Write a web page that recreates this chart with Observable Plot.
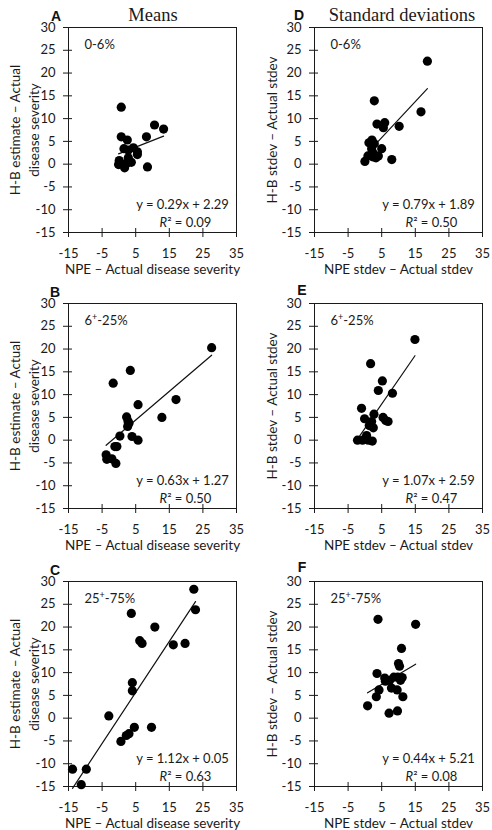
<!DOCTYPE html>
<html>
<head>
<meta charset="utf-8">
<script src="https://cdn.jsdelivr.net/npm/d3@7"></script>
<script src="https://cdn.jsdelivr.net/npm/@observablehq/plot@0.6"></script>
<style>
  html, body { margin: 0; padding: 0; background: #fff; }
  #fig { position: relative; width: 492px; height: 830px; overflow: hidden; background: #fff; }
  .panel { position: absolute; }
  .col-title { position: absolute; font-family: "Liberation Serif", "Times New Roman", serif; font-size: 18.5px; color: #1a1a1a; transform: translate(-50%, -50%); white-space: nowrap; }
  .letter { position: absolute; font-family: "Liberation Sans", Arial, sans-serif; font-weight: bold; font-size: 14px; color: #111; transform: translate(-50%, -50%); }
</style>
</head>
<body>
<div id="fig"></div>
<script>
// Axis ticks shared by every panel
const xTicks = [-15, -5, 5, 15, 25, 35];
const yTicks = [-15, -10, -5, 0, 5, 10, 15, 20, 25, 30];

// Severity classes (one row of panels each)
const ranges = ["0-6%", "6⁺-25%", "25⁺-75%"];

// Means: NPE − actual (x) vs H-B estimate − actual (y)
const meansLowX = [0.7, 0.7, 2.5, 8.2, 10.6, 13.3, 1.5, 2.8, 4.3, 5.5, 5.5, 0.1, -0.1, 1.7, 2.8, 3.7, 8.5, 2.3];
const meansLowY = [12.5, 6.0, 5.3, 6.0, 8.6, 7.7, 3.4, 3.1, 3.6, 2.7, 2.1, 0.8, -0.1, -0.8, 1.4, 0.4, -0.6, 0.2];
const meansMidX = [27.6, 17.0, 12.8, -1.7, 3.4, 5.7, 2.3, 2.7, 3.0, 2.6, 0.3, 3.9, 5.7, -1.2, -0.6, -3.8, -3.6, -2.1, -0.9];
const meansMidY = [20.3, 8.9, 5.0, 12.5, 15.3, 7.8, 5.1, 4.2, 3.7, 3.0, 0.9, 0.8, 0.0, -1.4, -1.4, -3.2, -4.2, -4.1, -5.1];
const meansHighX = [22.3, 22.8, 3.7, 10.7, 6.2, 6.9, 16.2, 19.7, 4.0, 4.0, -3.0, 4.6, 9.7, 3.0, 2.2, 0.6, -13.8, -9.7, -11.2];
const meansHighY = [28.3, 23.8, 23.0, 20.0, 17.0, 16.4, 16.1, 16.4, 7.8, 6.0, 0.5, -2.0, -2.0, -3.4, -3.8, -5.1, -11.2, -11.2, -14.6];

// Standard deviations: NPE stdev − actual (x) vs H-B stdev − actual (y)
const sdLowX = [18.6, 16.7, 2.8, 3.6, 5.9, 5.5, 10.2, 2.1, 1.2, 2.8, 5.0, 2.0, 0.0, 0.9, 2.5, 3.3, 4.0, 8.0, 2.3];
const sdLowY = [22.6, 11.5, 13.9, 8.8, 9.1, 8.0, 8.3, 5.3, 4.7, 4.5, 3.4, 3.4, 0.6, 1.8, 1.6, 1.4, 1.8, 1.0, 2.6];
const sdMidX = [14.9, 1.7, 5.2, 4.0, 8.2, -1.0, -0.1, 2.7, 2.0, 2.5, 5.4, 6.2, 6.9, -2.2, -0.7, 0.5, 1.0, 2.2, 1.3];
const sdMidY = [22.1, 16.8, 13.0, 10.9, 10.3, 7.0, 4.7, 5.7, 4.1, 2.7, 5.0, 4.3, 4.1, 0.0, 0.0, 1.0, 0.0, -0.2, 3.2];
const sdHighX = [3.9, 15.1, 10.9, 10.0, 10.3, 3.6, 5.9, 6.1, 7.4, 8.6, 9.8, 11.1, 10.6, 7.9, 9.6, 4.2, 3.4, 11.3, 0.8, 7.2, 9.7];
const sdHighY = [21.7, 20.6, 15.3, 12.0, 11.4, 9.8, 8.8, 8.1, 8.3, 9.0, 9.0, 8.9, 8.3, 6.6, 6.2, 6.2, 4.7, 4.7, 2.7, 1.1, 1.6];

// Fitted regressions (slope, intercept, R²), rows = severity class
const meansSlope = [0.29, 0.63, 1.12];
const meansIntercept = [2.29, 1.27, 0.05];
const meansR2 = ["0.09", "0.50", "0.63"];
const sdSlope = [0.79, 1.07, 0.44];
const sdIntercept = [1.89, 2.59, 5.21];
const sdR2 = ["0.50", "0.47", "0.08"];

const panelLetters = [["A", "B", "C"], ["D", "E", "F"]];
const columnTitles = ["Means", "Standard deviations"];
const xLabels = ["NPE – Actual disease severity", "NPE stdev – Actual stdev"];
const yLabels = ["H-B estimate – Actual\ndisease severity", "H-B stdev – Actual stdev"];

const fig = document.getElementById("fig");
const W = 246, H = 277;
const rowTop = [0, 276, 554];
const colLeft = [0, 246];

function fmt(v) { return v.toFixed(2); }

function panel(xs, ys, slope, intercept, r2, range, col) {
  const pts = xs.map((x, i) => ({x, y: ys[i]}));
  const [x0, x1] = d3.extent(xs);
  const fit = [x0, x1].map(x => ({x, y: slope * x + intercept}));
  const eq = `y = ${fmt(slope)}x + ${fmt(intercept)}`;
  const ink = "#1a1a1a";
  return Plot.plot({
    width: W, height: H,
    marginLeft: 68, marginRight: 10, marginTop: 27, marginBottom: 45,
    style: {fontFamily: "Lato, sans-serif", fontSize: "13px", color: ink, background: "transparent", overflow: "visible"},
    x: {domain: [-15, 35]},
    y: {domain: [-15, 30]},
    marks: [
      Plot.frame({stroke: ink, strokeWidth: 1}),
      // ticks cross the frame: 4px inside, 5px outside
      Plot.axisX({ticks: xTicks, tickSize: 9, dy: -4, tickPadding: 11, label: null, tickFormat: d => String(d)}),
      Plot.axisY({ticks: yTicks, tickSize: 9, dx: 4, tickPadding: 8, label: null, tickFormat: d => String(d)}),
      Plot.line(fit, {x: "x", y: "y", stroke: "#111", strokeWidth: 1.2}),
      Plot.dot(pts, {x: "x", y: "y", r: 4.6, fill: "#000", stroke: "none"}),
      Plot.text([range], {frameAnchor: "top-left", textAnchor: "start", lineAnchor: "middle", dx: 16, dy: 17, fill: ink}),
      Plot.text([eq], {frameAnchor: "bottom-right", textAnchor: "middle", lineAnchor: "middle", dx: -54, dy: -28, fill: ink}),
      Plot.text([`R² = ${r2}`], {frameAnchor: "bottom-right", textAnchor: "middle", lineAnchor: "middle", dx: -51, dy: -10, fill: ink}),
      Plot.text([xLabels[col]], {frameAnchor: "bottom", textAnchor: "middle", lineAnchor: "middle", dy: 37, fontSize: 13.5, fill: ink}),
      Plot.text([yLabels[col]], {frameAnchor: "left", textAnchor: "middle", lineAnchor: "middle", rotate: -90, lineHeight: 1.4, fontSize: 13.5, dx: col === 0 ? -45 : -44, fill: ink})
    ]
  });
}

// Italic R in R², raised "+" in the class labels
function polish(svg) {
  const ns = "http://www.w3.org/2000/svg";
  svg.querySelectorAll("text").forEach(t => {
    if (t.querySelector("tspan")) return;
    const s = t.textContent;
    if (s.startsWith("R²")) {
      t.textContent = "";
      const a = document.createElementNS(ns, "tspan");
      a.setAttribute("font-style", "italic");
      a.textContent = "R";
      const b = document.createElementNS(ns, "tspan");
      b.textContent = s.slice(1);
      t.append(a, b);
    } else if (s.includes("⁺")) {
      const [pre, post] = s.split("⁺");
      t.textContent = "";
      const a = document.createElementNS(ns, "tspan");
      a.textContent = pre;
      const b = document.createElementNS(ns, "tspan");
      b.setAttribute("font-size", "9px");
      b.setAttribute("dy", "-5");
      b.textContent = "+";
      const c = document.createElementNS(ns, "tspan");
      c.setAttribute("dy", "5");
      c.textContent = post;
      t.append(a, b, c);
    }
  });
}

const series = [
  [[meansLowX, meansLowY], [meansMidX, meansMidY], [meansHighX, meansHighY]],
  [[sdLowX, sdLowY], [sdMidX, sdMidY], [sdHighX, sdHighY]]
];
const slopes = [meansSlope, sdSlope];
const intercepts = [meansIntercept, sdIntercept];
const r2s = [meansR2, sdR2];

for (let col = 0; col < 2; ++col) {
  for (let row = 0; row < 3; ++row) {
    const [xs, ys] = series[col][row];
    const svg = panel(xs, ys, slopes[col][row], intercepts[col][row], r2s[col][row], ranges[row], col);
    polish(svg);
    const div = document.createElement("div");
    div.className = "panel";
    div.style.left = colLeft[col] + "px";
    div.style.top = rowTop[row] + "px";
    div.append(svg);
    fig.append(div);
  }
}

// Column titles and panel letters
const titlePos = [[153, 15], [402, 15]];
columnTitles.forEach((t, i) => {
  const d = document.createElement("div");
  d.className = "col-title";
  d.style.left = titlePos[i][0] + "px";
  d.style.top = titlePos[i][1] + "px";
  d.textContent = t;
  fig.append(d);
});
const letterPos = [[[56, 16], [55, 292], [55, 570]], [[299, 15], [302, 290], [302, 567]]];
panelLetters.forEach((col, c) => col.forEach((l, r) => {
  const d = document.createElement("div");
  d.className = "letter";
  d.style.left = letterPos[c][r][0] + "px";
  d.style.top = letterPos[c][r][1] + "px";
  d.textContent = l;
  fig.append(d);
}));
</script>
</body>
</html>
